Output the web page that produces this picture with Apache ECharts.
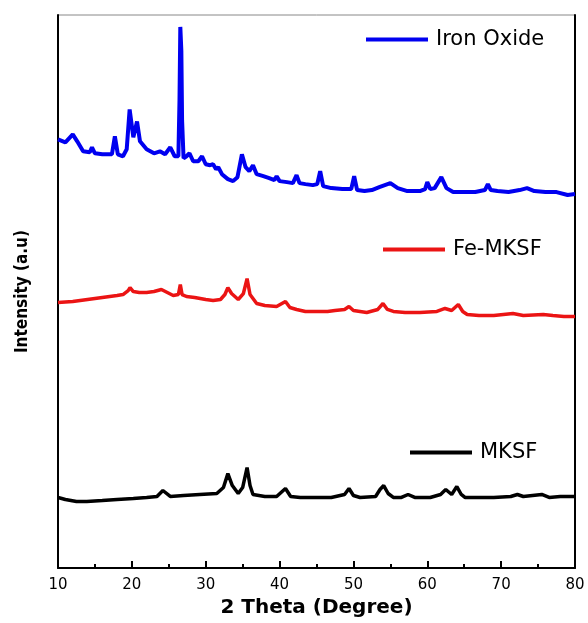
<!DOCTYPE html>
<html>
<head>
<meta charset="utf-8">
<title>XRD</title>
<script src="https://cdn.jsdelivr.net/npm/echarts@6/dist/echarts.min.js"></script>
<style>
  html, body { margin: 0; padding: 0; background: #fff; }
  #chart { width: 588px; height: 623px; }
</style>
</head>
<body>
<div id="chart"></div>
<script>
// x axis ticks (2 theta, degree)
var xTicks = [10, 20, 30, 40, 50, 60, 70, 80]

// [2theta, intensity (a.u, offset)]
var ironOxide = [
  [10, 431], [11, 428], [12.0, 436], [12.6, 429], [13.4, 419], [14.3, 418], [14.6, 423], [15.0, 417],
  [16.0, 416], [17.3, 416], [17.7, 434], [18.1, 416], [18.8, 414], [19.3, 421], [19.7, 461], [20.2, 433],
  [20.7, 449], [21.1, 429], [22.0, 421], [23.0, 417], [23.8, 419], [24.5, 416], [25.2, 423], [25.8, 414],
  [26.3, 414], [26.45, 470], [26.56, 544], [26.7, 520], [26.8, 450], [27.0, 412], [27.4, 414], [27.8, 417],
  [28.3, 409], [29.0, 409], [29.5, 414], [30.0, 406], [30.6, 405], [31.0, 406], [31.4, 401], [31.7, 403],
  [32.2, 396], [33.0, 391], [33.7, 389], [34.3, 393], [34.9, 416], [35.4, 403], [35.9, 399], [36.4, 405],
  [36.9, 396], [37.8, 394], [38.6, 392], [39.3, 390], [39.6, 394], [40.0, 389], [41.0, 388], [41.8, 387],
  [42.3, 395], [42.7, 387], [43.5, 386], [44.5, 385], [45.1, 386], [45.5, 399], [45.9, 384], [47.0, 382],
  [48.5, 381], [49.7, 381], [50.1, 394], [50.5, 380], [51.5, 379], [52.5, 380], [53.5, 383], [55.0, 387],
  [56.0, 382], [57.3, 379], [59.0, 379], [59.7, 381], [60.0, 388], [60.4, 381], [61.0, 382], [61.9, 393],
  [62.6, 382], [63.5, 378], [65.0, 378], [66.5, 378], [67.8, 380], [68.2, 386], [68.6, 380], [69.5, 379],
  [71.0, 378], [72.5, 380], [73.5, 382], [74.5, 379], [76.0, 378], [77.5, 378], [79.0, 375], [80.0, 376]
]

var feMKSF = [
  [10, 267], [12, 268], [14, 270], [16, 272], [18, 274], [18.8, 275], [19.5, 279], [19.75, 282],
  [20.2, 278], [21.0, 277], [22.0, 277], [23.0, 278], [24.0, 280], [24.8, 277], [25.6, 274], [26.3, 275],
  [26.56, 285], [26.8, 275], [27.4, 273], [28.5, 272], [30.0, 270], [31.0, 269], [32.0, 270], [32.6, 275],
  [33.0, 282], [33.5, 276], [34.4, 270], [35.1, 276], [35.6, 291], [36.0, 275], [36.9, 266], [38.0, 264],
  [39.6, 263], [40.8, 268], [41.4, 262], [42.3, 260], [43.5, 258], [45.0, 258], [46.5, 258], [47.5, 259],
  [48.8, 260], [49.4, 263], [50.0, 259], [51.8, 257], [53.3, 260], [54.0, 266], [54.6, 260], [55.4, 258],
  [57.0, 257], [59.0, 257], [61.3, 258], [62.4, 261], [63.3, 259], [64.2, 265], [64.8, 258], [65.4, 255],
  [67.0, 254], [69.0, 254], [71.6, 256], [73.0, 254], [75.7, 255], [77.0, 254], [78.5, 253], [80.0, 253]
]

var mksf = [
  [10, 71], [11, 69], [12.5, 67], [13.9, 67], [16, 68], [18, 69], [20.2, 70], [22, 71],
  [23.4, 72], [24.2, 78], [25.2, 72], [27, 73], [29.2, 74], [31.5, 75], [32.4, 81], [33.0, 95],
  [33.6, 83], [34.4, 75], [35.0, 81], [35.6, 101], [36.0, 83], [36.4, 74], [38.0, 72], [39.6, 72],
  [40.8, 80], [41.5, 72], [42.8, 71], [45, 71], [47, 71], [48.8, 74], [49.4, 80], [50.0, 73],
  [50.9, 71], [53.0, 72], [53.6, 79], [54.1, 83], [54.7, 75], [55.4, 71], [56.5, 71], [57.4, 74],
  [58.3, 71], [60.4, 71], [61.8, 74], [62.5, 79], [63.3, 74], [64.0, 82], [64.6, 74], [65.1, 71],
  [67, 71], [69, 71], [71.3, 72], [72.2, 74], [73, 72], [75.5, 74], [76.5, 71], [78, 72], [80, 72]
]

var chart = echarts.init(document.getElementById('chart'))

// one legend per curve, sitting just above it
function legendAt(name, left, top) {
  return {
    data: [name],
    left: left,
    top: top,
    padding: 0,
    icon: 'rect',
    itemWidth: 62,
    itemHeight: 4,
    selectedMode: false,
    textStyle: {
      color: '#000',
      fontSize: 21,
      fontFamily: 'DejaVu Sans',
      padding: [0, 0, 0, 3]
    }
  }
}

chart.setOption({
  animation: false,
  grid: {
    left: 58,
    right: 13,
    top: 15,
    bottom: 52,
    show: true,
    borderColor: '#888',
    borderWidth: 1
  },
  legend: [
    legendAt('Iron Oxide', 366, 29),
    legendAt('Fe-MKSF', 383, 239),
    legendAt('MKSF', 410, 442)
  ],
  xAxis: {
    type: 'value',
    min: xTicks[0],
    max: xTicks[xTicks.length - 1],
    interval: 10,
    name: '2 Theta (Degree)',
    nameLocation: 'middle',
    nameGap: 29,
    nameTextStyle: {
      color: '#000',
      fontSize: 20,
      fontWeight: 'bold',
      fontFamily: 'DejaVu Sans'
    },
    axisLine: { lineStyle: { color: '#000', width: 2 } },
    axisTick: { inside: true, length: 7, lineStyle: { color: '#000', width: 2 } },
    minorTick: { show: true, splitNumber: 2, length: 4, lineStyle: { color: '#000', width: 2 } },
    axisLabel: { color: '#000', fontSize: 15, fontFamily: 'DejaVu Sans', margin: 10 },
    splitLine: { show: false }
  },
  yAxis: [{
    type: 'value',
    min: 0,
    max: 556,
    name: 'Intensity (a.u)',
    nameLocation: 'middle',
    nameRotate: 90,
    nameGap: 27,
    nameTextStyle: {
      color: '#000',
      fontSize: 17,
      fontWeight: 'bold',
      fontFamily: "'DejaVu Sans Condensed', sans-serif"
    },
    axisLine: { show: true, lineStyle: { color: '#000', width: 2 } },
    axisTick: { show: false },
    axisLabel: { show: false },
    splitLine: { show: false }
  }, {
    // right frame
    type: 'value',
    position: 'right',
    min: 0,
    max: 556,
    axisLine: { show: true, lineStyle: { color: '#000', width: 2 } },
    axisTick: { show: false },
    axisLabel: { show: false },
    splitLine: { show: false }
  }],
  series: [{
    name: 'Iron Oxide',
    type: 'line',
    data: ironOxide,
    showSymbol: false,
    color: '#0000f0',
    lineStyle: { width: 4 }
  }, {
    name: 'Fe-MKSF',
    type: 'line',
    data: feMKSF,
    showSymbol: false,
    color: '#eb1414',
    lineStyle: { width: 3.5 }
  }, {
    name: 'MKSF',
    type: 'line',
    data: mksf,
    showSymbol: false,
    color: '#000',
    lineStyle: { width: 3.5 }
  }]
})
</script>
</body>
</html>
